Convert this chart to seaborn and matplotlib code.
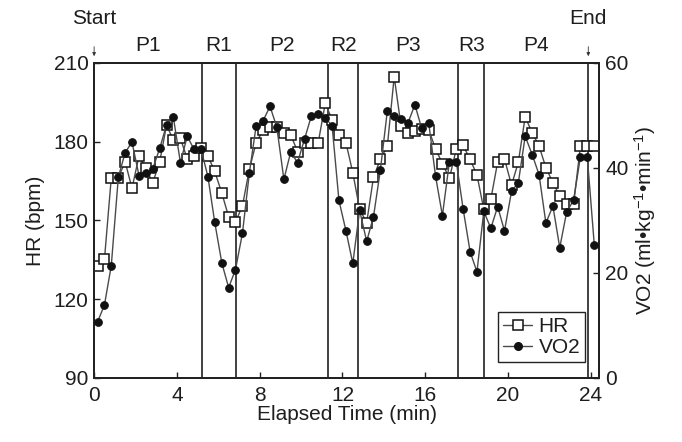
import matplotlib
matplotlib.use("Agg")
import matplotlib.pyplot as plt
import matplotlib.transforms as mtransforms
from matplotlib.lines import Line2D
import seaborn as sns
import pandas as pd

# ---------------- data ----------------
time_min = [0.17, 0.50, 0.83, 1.17, 1.50, 1.83, 2.17, 2.50, 2.83, 3.17,
            3.50, 3.83, 4.17, 4.50, 4.83, 5.17, 5.50, 5.83, 6.17, 6.50,
            6.83, 7.17, 7.50, 7.83, 8.17, 8.50, 8.83, 9.17, 9.50, 9.83,
            10.17, 10.50, 10.83, 11.17, 11.50, 11.83, 12.17, 12.50, 12.83, 13.17,
            13.50, 13.83, 14.17, 14.50, 14.83, 15.17, 15.50, 15.83, 16.17, 16.50,
            16.83, 17.17, 17.50, 17.83, 18.17, 18.50, 18.83, 19.17, 19.50, 19.83,
            20.17, 20.50, 20.83, 21.17, 21.50, 21.83, 22.17, 22.50, 22.83, 23.17,
            23.50, 23.83, 24.17]

hr_bpm = [132.5, 135.2, 166.3, 166.3, 172.3, 162.2, 174.5, 170.0, 164.2, 172.3,
          186.3, 180.5, 181.2, 173.4, 174.4, 177.4, 174.5, 168.6, 160.4, 151.4,
          149.3, 155.6, 169.4, 179.6, 184.4, 185.6, 185.5, 183.2, 182.6, 176.2,
          179.6, 179.6, 179.6, 194.6, 188.3, 182.5, 179.5, 168.2, 154.2, 149.1,
          166.4, 173.2, 178.3, 204.7, 186.0, 183.4, 184.2, 184.8, 184.4, 177.2,
          171.6, 166.0, 177.2, 178.5, 173.2, 167.3, 154.2, 158.0, 172.2, 173.4,
          163.4, 172.2, 189.4, 183.3, 178.3, 170.1, 164.3, 159.3, 156.2, 156.2,
          178.3, 178.3, 178.3]

vo2 = [10.7, 13.9, 21.4, 38.2, 42.9, 44.9, 38.5, 39.0, 39.8, 43.7,
       48.2, 49.6, 41.0, 46.0, 43.5, 43.5, 38.3, 29.6, 21.9, 17.2,
       20.6, 27.6, 39.0, 48.0, 49.0, 51.7, 47.7, 37.8, 43.0, 41.0,
       45.5, 49.9, 50.2, 49.5, 48.0, 33.8, 28.0, 21.8, 31.9, 26.0,
       30.7, 39.5, 50.9, 49.8, 49.2, 48.6, 52.0, 47.5, 48.5, 38.4,
       30.9, 41.2, 41.2, 32.2, 24.0, 20.2, 31.7, 28.5, 32.6, 28.0,
       35.5, 37.2, 46.0, 42.5, 38.7, 29.5, 32.7, 24.8, 31.5, 33.9,
       42.1, 42.1, 25.3]

phase_bounds = [5.23, 6.85, 11.32, 12.74, 17.60, 18.84, 23.88]
phase_labels = ["P1", "R1", "P2", "R2", "P3", "R3", "P4"]
x_ticks = [0, 4, 8, 12, 16, 20, 24]
hr_ticks = [90, 120, 150, 180, 210]
vo2_ticks = [0, 20, 40, 60]

df = pd.DataFrame({"t": time_min, "HR": hr_bpm, "VO2": vo2})

# ---------------- style ----------------
sns.set_style("ticks")
plt.rcParams["font.family"] = ["Liberation Sans", "DejaVu Sans"]
plt.rcParams["mathtext.fontset"] = "custom"
plt.rcParams["mathtext.rm"] = "Liberation Sans"
plt.rcParams["mathtext.it"] = "Liberation Sans:italic"
plt.rcParams["xtick.direction"] = "in"
plt.rcParams["ytick.direction"] = "in"
TXT = "#1e1e1e"
FS = 15

fig = plt.figure(figsize=(6.82, 4.42), dpi=100)
ax = fig.add_axes([0.138, 0.145, 0.741, 0.713])
ax2 = ax.twinx()

# phase boundaries
for b in phase_bounds:
    ax.axvline(b, color="#333333", lw=1.3, zorder=1)

sns.lineplot(data=df, x="t", y="HR", ax=ax, sort=False, errorbar=None,
             color="#4a4a4a", lw=1.0, marker="s", markersize=7,
             markerfacecolor="white", markeredgecolor="#111111",
             markeredgewidth=1.1, legend=False, zorder=3)
sns.lineplot(data=df, x="t", y="VO2", ax=ax2, sort=False, errorbar=None,
             color="#4a4a4a", lw=1.0, marker="o", markersize=5.5,
             markerfacecolor="#111111", markeredgecolor="#111111",
             legend=False, zorder=3)

ax.set_xlim(0, 24.42)
ax.set_ylim(90, 210)
ax2.set_ylim(0, 60)
ax.set_xticks(x_ticks)
ax.set_yticks(hr_ticks)
ax2.set_yticks(vo2_ticks)

for a in (ax, ax2):
    for s in a.spines.values():
        s.set_visible(True)
        s.set_linewidth(1.4)
        s.set_color("#222222")
    a.tick_params(labelsize=FS, colors="#222222", labelcolor=TXT,
                  length=4, width=1.0, pad=4)
ax.tick_params(axis="x", pad=6)

ax.set_xlabel("Elapsed Time (min)", fontsize=FS, color=TXT, labelpad=0)
ax.set_ylabel("HR (bpm)", fontsize=FS, color=TXT, labelpad=6)
ax2.set_ylabel(r"VO2 (ml•kg$^{-1}$•min$^{-1}$)", fontsize=FS, color=TXT, labelpad=3)

# phase labels above the axes
trans = mtransforms.blended_transform_factory(ax.transData, ax.transAxes)
edges = [0] + phase_bounds
for i, lab in enumerate(phase_labels):
    mid = (edges[i] + edges[i + 1]) / 2
    ax.text(mid, 1.055, lab, transform=trans, ha="center", va="center",
            fontsize=FS, color=TXT)

for xpos, lab in [(0, "Start"), (phase_bounds[-1], "End")]:
    ax.text(xpos, 1.14, lab, transform=trans, ha="center", va="center",
            fontsize=FS, color=TXT)
    ax.annotate("", xy=(xpos, 1.012), xytext=(xpos, 1.06),
                xycoords=trans, textcoords=trans,
                arrowprops=dict(arrowstyle="-|>", lw=0.6, color="#333333",
                                mutation_scale=5))

handles = [
    Line2D([], [], color="#4a4a4a", lw=1.0, marker="s", markersize=7,
           markerfacecolor="white", markeredgecolor="#111111", markeredgewidth=1.1),
    Line2D([], [], color="#4a4a4a", lw=1.0, marker="o", markersize=5.5,
           markerfacecolor="#111111", markeredgecolor="#111111"),
]
leg = ax2.legend(handles, ["HR", "VO2"], loc="lower right",
                 bbox_to_anchor=(0.972, 0.05), fontsize=FS, frameon=True,
                 fancybox=False, edgecolor="#222222", framealpha=1,
                 handlelength=1.4, handletextpad=0.3, borderpad=0.25,
                 labelspacing=0.1, borderaxespad=0)
leg.get_frame().set_linewidth(1.0)
for t in leg.get_texts():
    t.set_color(TXT)

fig.savefig("out.png", dpi=100)
